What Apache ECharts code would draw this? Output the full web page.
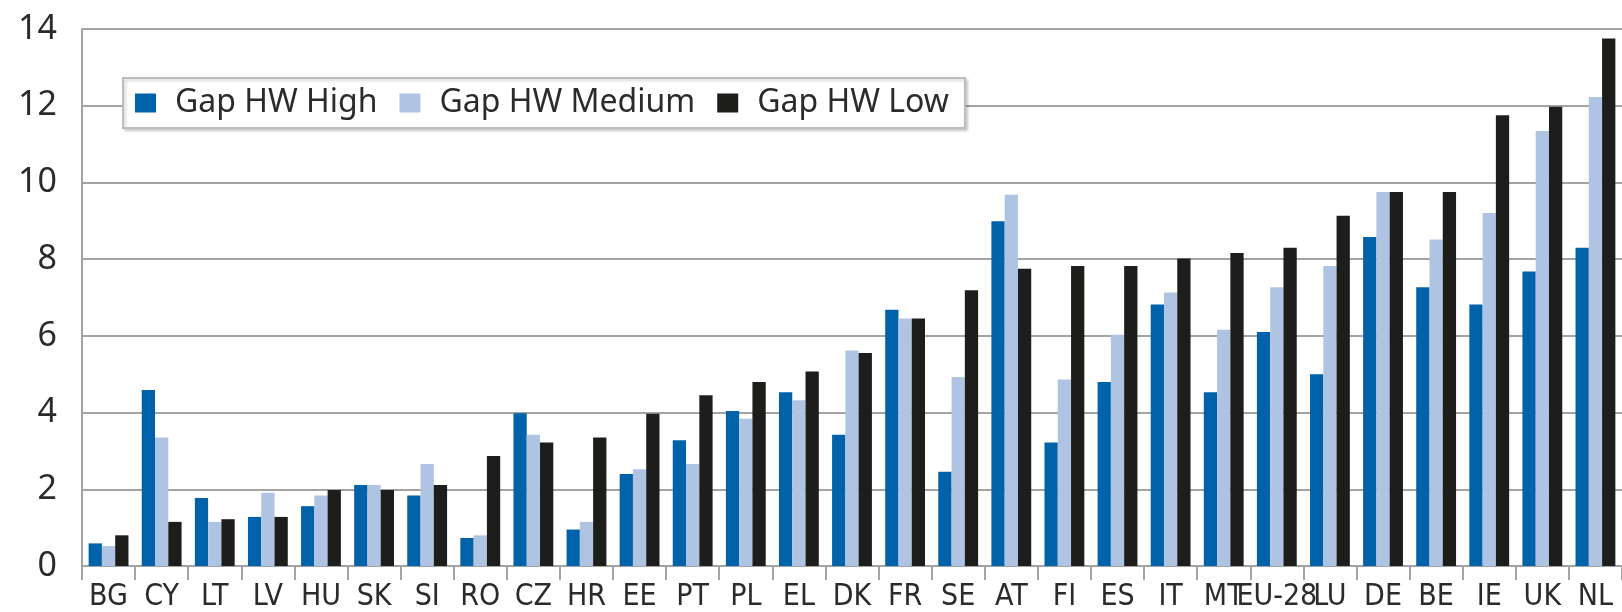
<!DOCTYPE html>
<html lang="en">
<head>
    <meta charset="UTF-8">
    <title>Gap HW by country</title>
    <script src="https://cdn.jsdelivr.net/npm/echarts@6/dist/echarts.min.js"></script>
    <style>
        html, body { margin: 0; padding: 0; background: #fff; }
        #chart { width: 1622px; height: 612px; }
    </style>
</head>
<body>
    <div id="chart"></div>
    <script>
        // data
        const categories = ['BG', 'CY', 'LT', 'LV', 'HU', 'SK', 'SI', 'RO', 'CZ', 'HR', 'EE', 'PT', 'PL', 'EL', 'DK',
            'FR', 'SE', 'AT', 'FI', 'ES', 'IT', 'MT', 'EU-28', 'LU', 'DE', 'BE', 'IE', 'UK', 'NL'];
        const gapHigh = [0.59, 4.59, 1.77, 1.28, 1.56, 2.11, 1.84, 0.73, 3.98, 0.95, 2.40, 3.28, 4.04, 4.53, 3.42,
            6.68, 2.46, 8.99, 3.22, 4.80, 6.82, 4.53, 6.10, 5.00, 8.58, 7.27, 6.82, 7.68, 8.30];
        const gapMedium = [0.52, 3.35, 1.15, 1.91, 1.84, 2.11, 2.66, 0.80, 3.42, 1.15, 2.52, 2.66, 3.84, 4.32, 5.62,
            6.45, 4.93, 9.68, 4.86, 6.03, 7.13, 6.16, 7.27, 7.82, 9.75, 8.51, 9.20, 11.34, 12.23];
        const gapLow = [0.80, 1.15, 1.22, 1.28, 1.98, 1.98, 2.11, 2.87, 3.22, 3.35, 3.97, 4.45, 4.80, 5.07, 5.55,
            6.45, 7.19, 7.75, 7.82, 7.82, 8.02, 8.16, 8.30, 9.13, 9.75, 9.75, 11.75, 11.97, 13.75];
        const seriesNames = ['Gap HW High', 'Gap HW Medium', 'Gap HW Low'];
        const colors = ['#0062a8', '#afc4e3', '#1d1d1b'];

        const chart = echarts.init(document.getElementById('chart'));
        const gridColor = '#a3a3a3';

        chart.setOption({
            animation: false,
            color: colors,
            textStyle: { fontFamily: 'Noto Sans' },
            grid: { left: 82, top: 29, width: 1546, bottom: 46, containLabel: false },
            legend: {
                left: 123,
                top: 78,
                padding: [9, 16, 9, 12],
                itemGap: 22,
                itemWidth: 21,
                itemHeight: 19,
                icon: 'rect',
                backgroundColor: '#fff',
                borderColor: '#bdbdbd',
                borderWidth: 2,
                shadowColor: 'rgba(0,0,0,0.18)',
                shadowBlur: 3,
                shadowOffsetX: 2,
                shadowOffsetY: 2,
                textStyle: { fontSize: 32, color: '#2b2b2b', padding: [0, 0, 0, 14] },
                data: seriesNames
            },
            xAxis: {
                type: 'category',
                data: categories,
                axisLine: { lineStyle: { color: gridColor, width: 2 } },
                axisTick: { show: true, length: 14, lineStyle: { color: gridColor, width: 2 } },
                axisLabel: {
                    interval: 0,
                    margin: 16,
                    fontSize: 30,
                    color: '#2b2b2b',
                    fontFamily: '"Liberation Sans Narrow", "DejaVu Sans Condensed", "Noto Sans"'
                }
            },
            yAxis: {
                type: 'value',
                min: 0,
                max: 14,
                interval: 2,
                axisLine: { show: true, lineStyle: { color: gridColor, width: 2 } },
                axisTick: { show: false },
                splitLine: { lineStyle: { color: gridColor, width: 2 } },
                axisLabel: { fontSize: 34, color: '#2b2b2b', margin: 25 }
            },
            series: [
                { name: seriesNames[0], type: 'bar', data: gapHigh, barGap: '0%', barCategoryGap: '25%' },
                { name: seriesNames[1], type: 'bar', data: gapMedium, barGap: '0%', barCategoryGap: '25%' },
                { name: seriesNames[2], type: 'bar', data: gapLow, barGap: '0%', barCategoryGap: '25%' }
            ]
        });
    </script>
</body>
</html>
